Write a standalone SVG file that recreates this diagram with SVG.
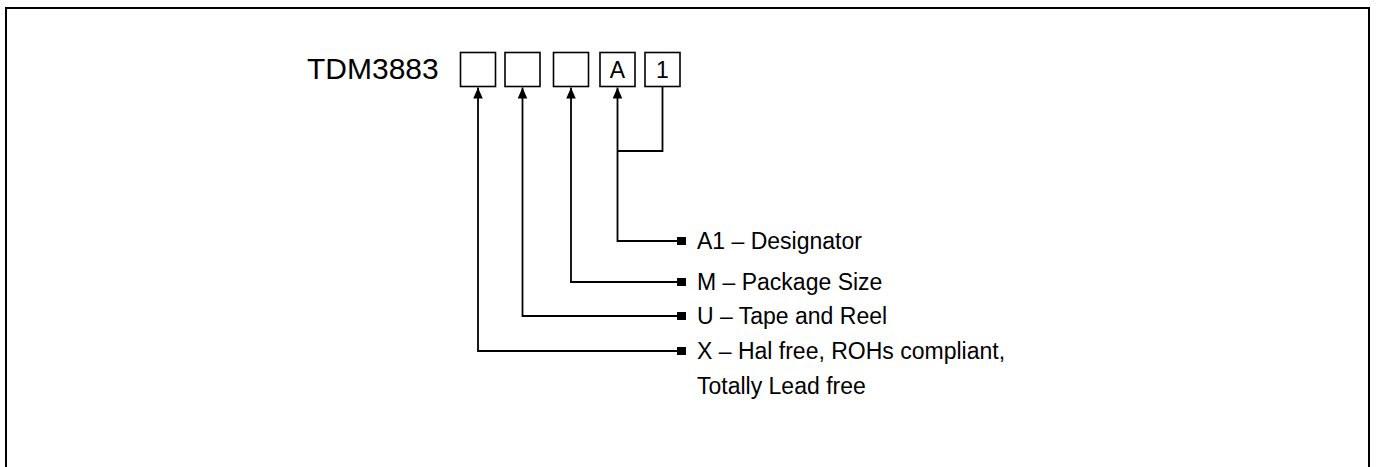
<svg xmlns="http://www.w3.org/2000/svg" width="1381" height="467" viewBox="0 0 1381 467">
<style>
text{font-family:"Liberation Sans",Arial,sans-serif;fill:#000}
.lbl{font-size:23px}
.box{fill:#fff;stroke:#000;stroke-width:1.6}
.ln{fill:none;stroke:#000;stroke-width:1.8}
</style>
<defs>
<marker id="arr" markerWidth="11" markerHeight="10" refX="0" refY="0" orient="auto" markerUnits="userSpaceOnUse" viewBox="-11 -5 11 10">
<path d="M0,0 L-11,-4.8 L-11,4.8 Z" fill="#000"/>
</marker>
</defs>
<rect x="0" y="0" width="1381" height="467" fill="#fff"/>
<rect id="frame" x="6" y="8" width="1363" height="470" fill="none" stroke="#000" stroke-width="2"/>
<g id="title"><text x="307" y="79" style="font-size:30px">TDM3883</text></g>
<g id="box1"><rect class="box" x="460.5" y="52.5" width="35" height="34"/></g>
<g id="box2"><rect class="box" x="505" y="52.5" width="35" height="34"/></g>
<g id="box3"><rect class="box" x="553.5" y="52.5" width="35" height="34"/></g>
<g id="boxA"><rect class="box" x="600" y="52.5" width="35" height="34"/><text class="lbl" x="617.5" y="77.5" text-anchor="middle">A</text></g>
<g id="box1b"><rect class="box" x="645" y="52.5" width="35" height="34"/><text class="lbl" x="662.5" y="77.5" text-anchor="middle">1</text></g>
<g id="connectors">
<polyline class="ln" points="677,241 617.5,241 617.5,87.5" marker-end="url(#arr)"/>
<polyline class="ln" points="617.5,151 662.5,151 662.5,86.5"/>
<polyline class="ln" points="677,282 571,282 571,87.5" marker-end="url(#arr)"/>
<polyline class="ln" points="677,316 522.5,316 522.5,87.5" marker-end="url(#arr)"/>
<polyline class="ln" points="677,351 478,351 478,87.5" marker-end="url(#arr)"/>
<rect x="677" y="237" width="9" height="8"/>
<rect x="677" y="278" width="9" height="8"/>
<rect x="677" y="312" width="9" height="8"/>
<rect x="677" y="347" width="9" height="8"/>
</g>
<g id="legend">
<text class="lbl" x="697" y="249">A1 – Designator</text>
<text class="lbl" x="697" y="290">M – Package Size</text>
<text class="lbl" x="697" y="324">U – Tape and Reel</text>
<text class="lbl" x="697" y="359">X – Hal free, ROHs compliant,</text>
<text class="lbl" x="697" y="394">Totally Lead free</text>
</g>
</svg>
